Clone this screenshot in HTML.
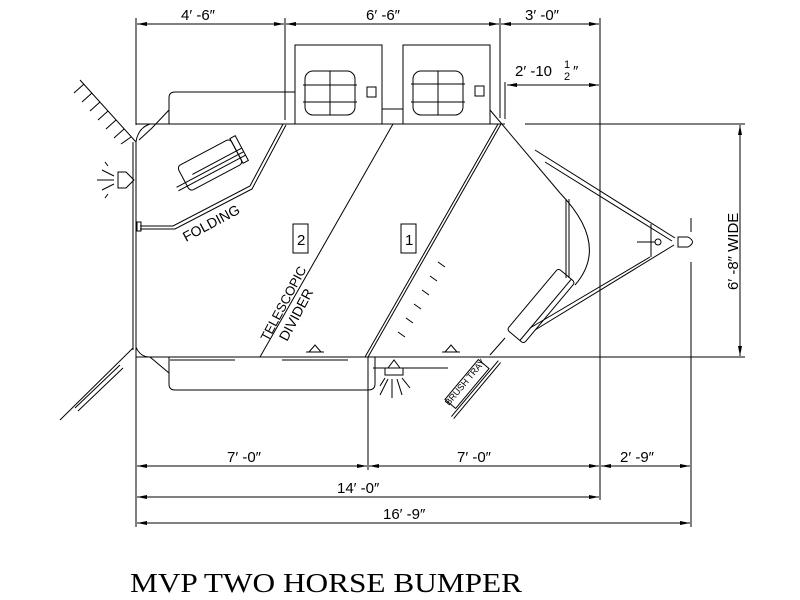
<!DOCTYPE html>
<html><head><style>
body{margin:0;background:#fff;width:800px;height:600px;overflow:hidden}
svg{display:block}
text{fill:#000}
.s{font-family:"Liberation Sans",sans-serif}
</style></head><body>
<svg width="800" height="600" viewBox="0 0 800 600" xmlns="http://www.w3.org/2000/svg">
<defs>
<marker id="a" viewBox="0 0 10 4" refX="10" refY="2" markerWidth="10" markerHeight="4" orient="auto-start-reverse" markerUnits="userSpaceOnUse"><path d="M0,0L10,2L0,4z" fill="#000"/></marker>
</defs>
<g stroke="#000" stroke-width="1" fill="none">
<line x1="136" y1="18" x2="136" y2="125"/>
<line x1="285" y1="18" x2="285" y2="120"/>
<line x1="500" y1="18" x2="500" y2="118"/>
<line x1="600" y1="18" x2="600" y2="500"/>
<line x1="137" y1="24" x2="284" y2="24" marker-start="url(#a)" marker-end="url(#a)"/>
<line x1="286" y1="24" x2="499" y2="24" marker-start="url(#a)" marker-end="url(#a)"/>
<line x1="501" y1="24" x2="599" y2="24" marker-start="url(#a)" marker-end="url(#a)"/>
<line x1="505" y1="82" x2="505" y2="119"/>
<line x1="507" y1="85" x2="599" y2="85" marker-start="url(#a)" marker-end="url(#a)"/>
<line x1="136" y1="124" x2="505" y2="124"/>
<line x1="525" y1="124" x2="745" y2="124"/>
<line x1="136" y1="357" x2="745" y2="357"/>
<line x1="740" y1="125" x2="740" y2="356" marker-start="url(#a)" marker-end="url(#a)"/>
<line x1="133" y1="142" x2="133" y2="350"/><line x1="136" y1="142" x2="136" y2="527"/>
<line x1="80" y1="80" x2="136" y2="142"/>
<g>
<line x1="84" y1="84" x2="74" y2="93"/><line x1="92" y1="93" x2="82" y2="102"/><line x1="100" y1="102" x2="90" y2="111"/><line x1="108" y1="111" x2="98" y2="120"/><line x1="116" y1="120" x2="106" y2="129"/><line x1="124" y1="129" x2="114" y2="138"/><line x1="131" y1="137" x2="121" y2="144"/>
</g>
<path d="M136,142 Q138,128 150,124"/><path d="M139,140 L152,128 L169,110"/>
<line x1="133" y1="348" x2="60" y2="420"/><line x1="120" y1="365" x2="75" y2="408"/><line x1="123" y1="368" x2="78" y2="411"/>
<path d="M136,347 Q140,357 150,357"/><line x1="150" y1="357" x2="169" y2="373"/>
<path d="M169,124 V98 Q169,92 175,92 H295"/>
<path d="M169,357 V384 Q169,390 175,390 H368 Q375,390 375,384 V357"/>
<line x1="170" y1="360" x2="235" y2="360"/><line x1="282" y1="360" x2="348" y2="360"/>
<rect x="295" y="45" width="87" height="79"/>
<rect x="403" y="45" width="87" height="79"/>
<line x1="382" y1="109" x2="403" y2="109"/>
<rect x="305" y="71" width="50" height="44" rx="8"/>
<rect x="413" y="71" width="50" height="44" rx="8"/>
<line x1="330" y1="71" x2="330" y2="115"/><line x1="303" y1="85" x2="357" y2="85"/><line x1="303" y1="102" x2="357" y2="102"/>
<line x1="438" y1="71" x2="438" y2="115"/><line x1="411" y1="84" x2="465" y2="84"/><line x1="411" y1="102" x2="465" y2="102"/>
<rect x="367" y="87" width="9" height="10"/><rect x="475" y="86" width="9" height="10"/>
<polyline points="283,124 250,186 173,226 140,226"/>
<polyline points="286,125 252,189 175,229 140,229"/>
<rect x="137" y="222" width="4" height="9"/>
<g transform="translate(210,165) rotate(-28)">
<rect x="-30" y="-14" width="60" height="28" rx="4"/>
<rect x="30" y="-14" width="6" height="28"/>
<line x1="-40" y1="4" x2="36" y2="4"/><line x1="-40" y1="8" x2="36" y2="8"/>
<line x1="-20" y1="0" x2="36" y2="0"/>
</g>
<line x1="393" y1="124" x2="260" y2="357"/>
<line x1="498" y1="124" x2="365" y2="357"/><line x1="501" y1="124" x2="368" y2="357"/>
<g>
<line x1="438" y1="262" x2="445" y2="267"/><line x1="430" y1="276" x2="437" y2="281"/><line x1="422" y1="290" x2="429" y2="295"/><line x1="414" y1="304" x2="421" y2="309"/><line x1="406" y1="318" x2="413" y2="323"/><line x1="398" y1="332" x2="405" y2="337"/>
</g>
<rect x="293" y="224" width="15" height="29"/>
<rect x="401" y="224" width="15" height="29"/>
<line x1="490" y1="110" x2="560" y2="193"/>
<path d="M560,193 Q610,245 575,285"/>
<line x1="566" y1="199" x2="566" y2="278"/><line x1="569" y1="199" x2="569" y2="278"/>
<line x1="535" y1="150" x2="675" y2="238"/><line x1="545" y1="162" x2="672" y2="241"/>
<line x1="674" y1="245" x2="535" y2="330"/><line x1="650" y1="257" x2="530" y2="328"/>
<line x1="651" y1="224" x2="651" y2="257"/>
<circle cx="658" cy="242" r="3"/><line x1="637" y1="242" x2="655" y2="242"/>
<path d="M678,237 H688 Q697,242 688,247 H678 Z"/>
<line x1="691" y1="218" x2="691" y2="232"/><line x1="691" y1="262" x2="691" y2="527"/>
<g transform="translate(541,306) rotate(-50)">
<rect x="-40" y="-11" width="80" height="22" rx="3"/>
<line x1="-40" y1="6" x2="40" y2="6"/>
</g>
<line x1="505" y1="338" x2="490" y2="355"/>
<g transform="translate(467,384) rotate(-50)">
<rect x="-26" y="-7" width="52" height="14"/>
<line x1="-35" y1="9" x2="38" y2="9"/><line x1="-35" y1="12" x2="38" y2="12"/>
</g>
<line x1="373" y1="368" x2="448" y2="368"/>
<path d="M118,172 H126 L134,180 L126,188 H118 Z"/>
<line x1="97" y1="180" x2="114" y2="180"/><line x1="102" y1="170" x2="114" y2="176"/><line x1="102" y1="190" x2="114" y2="184"/><line x1="105" y1="162" x2="108" y2="166"/><line x1="105" y1="198" x2="108" y2="194"/>
<path d="M385,368 H403 V375 H385 Z M388,368 L394,360 L400,368"/>
<line x1="392" y1="379" x2="392" y2="398"/><line x1="388" y1="379" x2="380" y2="395"/><line x1="397" y1="379" x2="402" y2="395"/><line x1="385" y1="378" x2="380" y2="386"/><line x1="402" y1="378" x2="410" y2="388"/>
<path d="M306,352 H324 M309,352 L315,345 L321,352"/>
<path d="M442,352 H460 M445,352 L451,345 L457,352"/>
<line x1="368" y1="357" x2="368" y2="470"/>
<line x1="137" y1="466" x2="367" y2="466" marker-start="url(#a)" marker-end="url(#a)"/>
<line x1="369" y1="466" x2="599" y2="466" marker-start="url(#a)" marker-end="url(#a)"/>
<line x1="601" y1="466" x2="690" y2="466" marker-start="url(#a)" marker-end="url(#a)"/>
<line x1="137" y1="497" x2="599" y2="497" marker-start="url(#a)" marker-end="url(#a)"/>
<line x1="137" y1="523" x2="690" y2="523" marker-start="url(#a)" marker-end="url(#a)"/>
</g>
<g font-size="15" class="s">
<text x="181" y="20">4′ -6″</text>
<text x="366" y="20">6′ -6″</text>
<text x="525" y="20">3′ -0″</text>
<text x="515" y="76">2′ -10</text><text x="564" y="68" font-size="11">1</text><text x="564" y="80" font-size="11">2</text><text x="573" y="76">″</text>
<text x="227" y="462">7′ -0″</text>
<text x="457" y="462">7′ -0″</text>
<text x="620" y="462">2′ -9″</text>
<text x="337" y="493">14′ -0″</text>
<text x="383" y="519">16′ -9″</text>
<text x="297" y="245">2</text><text x="405" y="245">1</text>
<text transform="translate(738,290) rotate(-90)">6′ -8″ WIDE</text>
<text transform="translate(186,242) rotate(-28)" font-size="14">FOLDING</text>
<text transform="translate(268,342) rotate(-62)" font-size="13">TELESCOPIC</text>
<text transform="translate(287,342) rotate(-62)" font-size="14">DIVIDER</text>
<text transform="translate(449,406) rotate(-50)" font-size="9">BRUSH TRAY</text>
</g>
<text x="130" y="592" style="font-family:'Liberation Serif',serif;font-size:27px" textLength="392" lengthAdjust="spacingAndGlyphs">MVP TWO HORSE BUMPER</text>
</svg>
</body></html>
